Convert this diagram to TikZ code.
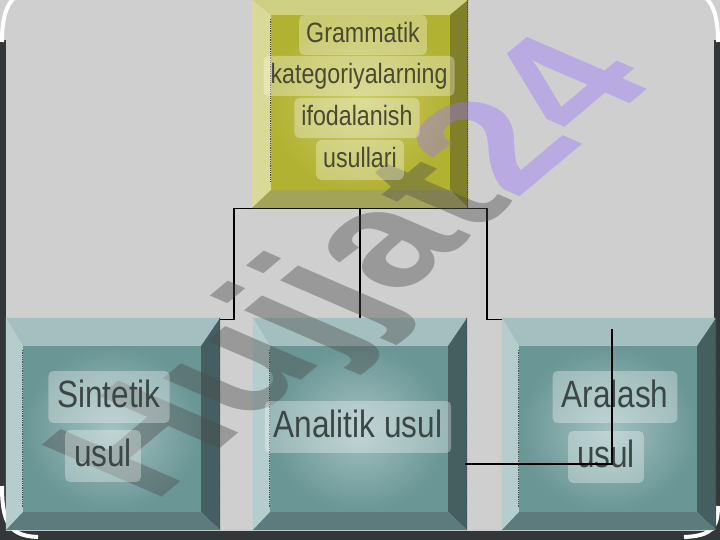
\documentclass[tikz,border=0pt]{standalone}
\usepackage{fontspec}
\setmainfont{Liberation Sans}[FakeStretch=0.83]
\newfontfamily\wmfont{Liberation Sans}

\definecolor{slidebg}{HTML}{CFCFCF}
\definecolor{framedark}{HTML}{34373A}
\definecolor{olvface}{HTML}{B2B232}
\definecolor{olvfacelt}{HTML}{CCCC6C}
\definecolor{olvtop}{HTML}{D0D084}
\definecolor{olvleft}{HTML}{DADA98}
\definecolor{olvright}{HTML}{80802A}
\definecolor{olvbot}{HTML}{A4A458}
\definecolor{tealface}{HTML}{6A9696}
\definecolor{tealfacelt}{HTML}{A4C0C0}
\definecolor{tealtop}{HTML}{A4BFBF}
\definecolor{tealleft}{HTML}{B6CDCD}
\definecolor{tealright}{HTML}{455F60}
\definecolor{tealbot}{HTML}{5D7B7C}
\definecolor{toptext}{HTML}{4A4A30}
\definecolor{subtext}{HTML}{3B4646}
\definecolor{wmgray}{HTML}{4A4A4A}
\definecolor{wmviolet}{HTML}{9873FF}

\tikzset{
  boxframe/.style={inner sep=0},
  conn/.style={black, line width=1.1},
  dotline/.style={black!70, densely dotted, line width=.8},
  linebox/.style={fill=white, fill opacity=.32, text opacity=1, rounded corners=5},
  topline/.style={linebox, text=toptext, inner xsep=7, inner ysep=6.5,
    text height=21, text depth=6, font=\fontsize{28}{30}\selectfont},
  subline/.style={linebox, text=subtext, inner xsep=9, inner ysep=7.5,
    text height=28.5, text depth=8.4, font=\fontsize{38}{40}\selectfont}
}

\begin{document}
\begin{tikzpicture}[x=1pt,y=-1pt]
        \useasboundingbox (0,0) rectangle (720,540);

        % slide and frame
        \fill[slidebg] (0,0) rectangle (720,540);
        \fill[framedark] (0,40) rectangle (6,540);
        \fill[framedark] (714,40) rectangle (720,540);
        \fill[framedark] (0,531) rectangle (720,540);
        \draw[white, line width=4] (2,42) .. controls (2,16) and (7,5) .. (14,-2);
        \draw[white, line width=4] (718,42) .. controls (718,16) and (713,5) .. (706,-2);
        \draw[white, line width=4] (2,486) .. controls (2,524) and (10,536) .. (38,537);
        \draw[white, line width=4] (718,506) .. controls (718,528) and (711,536) .. (684,537);

        % box outlines
        \node[boxframe, minimum width=216, minimum height=208] (gram) at (360,104) {};
        \foreach \nm/\cx in {sint/113, anal/360, aral/609}
          \node[boxframe, minimum width=214, minimum height=212] (\nm) at (\cx,424) {};

        % connectors
        \draw[conn] (gram.south) -- ++(-126,0) |- ([yshift=-2]sint.north);
        \draw[conn] (gram.south) -- (anal.north);
        \draw[conn] (gram.south) -- ++(127,0) |- ([yshift=-2]aral.north);

        % top box
        \node[boxframe, minimum width=179, minimum height=175, inner color=olvfacelt, outer color=olvface] (gram-in) at (360.5,102.5) {};
        \fill[olvtop] (gram.north west) -- (gram.north east) -- (gram-in.north east) -- (gram-in.north west) -- cycle;
        \fill[olvleft] (gram.north west) -- (gram-in.north west) -- (gram-in.south west) -- (gram.south west) -- cycle;
        \fill[olvright] (gram.north east) -- (gram-in.north east) -- (gram-in.south east) -- (gram.south east) -- cycle;
        \fill[olvbot] (gram.south west) -- (gram-in.south west) -- (gram-in.south east) -- (gram.south east) -- cycle;
        \draw[dotline] ([yshift=-4]gram-in.north west) -- ([yshift=8]gram-in.south west);
        \draw[dotline] ([xshift=-1]gram.north east) -- ([xshift=-1]gram.south east);

        % lower boxes
        \foreach \nm/\cx in {sint/113, anal/360, aral/609} {
          \node[boxframe, minimum width=178, minimum height=166, inner color=tealfacelt, outer color=tealface] (\nm-in) at (\cx-1,429) {};
          \fill[tealtop] (\nm.north west) -- (\nm.north east) -- (\nm-in.north east) -- (\nm-in.north west) -- cycle;
          \fill[tealleft] (\nm.north west) -- (\nm-in.north west) -- (\nm-in.south west) -- (\nm.south west) -- cycle;
          \fill[tealright] (\nm.north east) -- (\nm-in.north east) -- (\nm-in.south east) -- (\nm.south east) -- cycle;
          \fill[tealbot] (\nm.south west) -- (\nm-in.south west) -- (\nm-in.south east) -- (\nm.south east) -- cycle;
          \draw[dotline] ([yshift=-4]\nm-in.north west) -- ([yshift=4]\nm-in.south west);
          \draw[dotline] ([xshift=-1]\nm.north east) -- ([xshift=-1]\nm.south east);
        }

        % watermark
        \begin{scope}[shift={(362,272)}, rotate=40, xslant=-0.5]
          \node[transform shape, inner sep=0, text opacity=.4,
            font=\wmfont\bfseries\fontsize{170}{170}\selectfont] (mark) at (0,0)
            {\textcolor{wmgray}{Hujjat}\textcolor{wmviolet}{24}};
        \end{scope}

        % labels
        \node[topline] (gram1) at (363,35) {Grammatik};
        \node[topline] (gram2) at (359,76) {kategoriyalarning};
        \node[topline] (gram3) at (357,118) {ifodalanish};
        \node[topline] (gram4) at (360,160) {usullari};
        \node[subline] (sint1) at (109,397) {Sintetik};
        \node[subline] (sint2) at (103,456) {usul};
        \node[subline] (anal1) at (358,427) {Analitik usul};
        \node[subline] (aral1) at (615,397) {Aralash};
        \node[subline] (aral2) at (606,457) {usul};

        % stray connector
        \coordinate (stray1) at (465,464);
        \coordinate (stray2) at (612,329);
        \draw[conn] (stray1) -| (stray2);

\end{tikzpicture}
\end{document}
